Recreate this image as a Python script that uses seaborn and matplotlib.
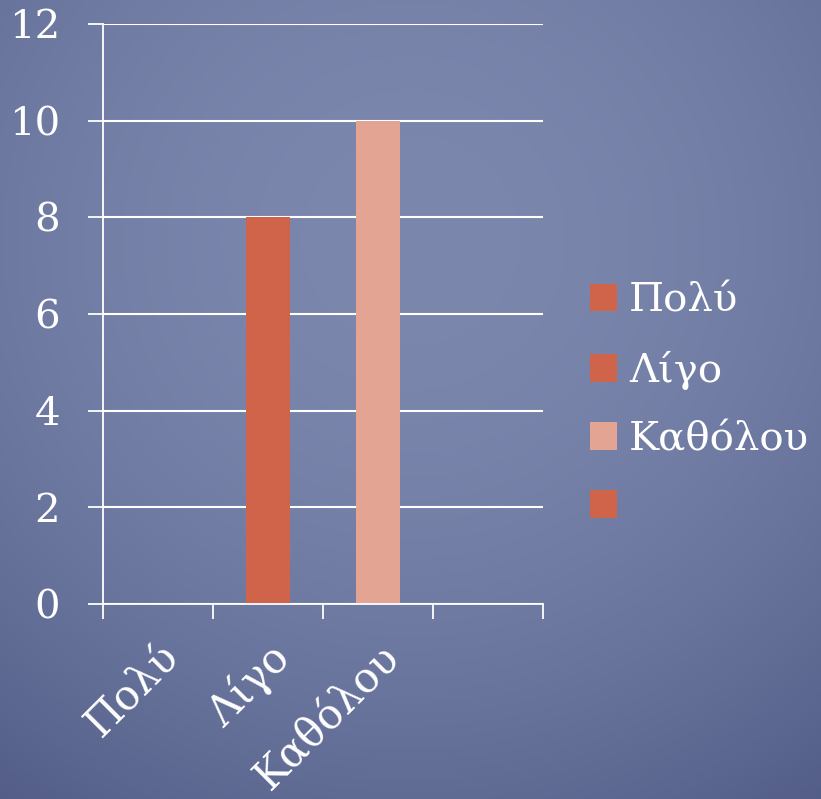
import numpy as np
import pandas as pd
import matplotlib
matplotlib.use('Agg')
import matplotlib.pyplot as plt
from matplotlib.patches import Patch
import seaborn as sns

categories = ['Πολύ', 'Λίγο', 'Καθόλου', '']
values     = [0, 8, 10, 0]
legend_lbl = ['Πολύ', 'Λίγο', 'Καθόλου', '']
yticks     = [0, 2, 4, 6, 8, 10, 12]

DARK, LIGHT = '#d0644a', '#e4a493'
bar_colors = [DARK, DARK, LIGHT, DARK]

sns.set_style('white')
plt.rcParams['font.family'] = ['DejaVu Serif', 'DejaVu Sans']

fig = plt.figure(figsize=(8.21, 7.99), dpi=100)

# background gradient (light in the middle, darker toward bottom-left)
bg = fig.add_axes([0, 0, 1, 1], zorder=-10)
yy, xx = np.mgrid[0:1:400j, 0:1:400j]
d = np.sqrt((xx - 0.5) ** 2 + (yy - 0.3) ** 2)
t = np.clip(d / 0.95, 0, 1) ** 2.0
top = np.array([0x7b, 0x87, 0xad]) / 255
low = np.array([0x4a, 0x54, 0x80]) / 255
img = top[None, None, :] * (1 - t[..., None]) + low[None, None, :] * t[..., None]
bg.imshow(img, extent=[0, 1, 0, 1], aspect='auto', origin='upper')
bg.axis('off')

ax = fig.add_axes([0.1255, 0.2441, 0.5359, 0.7259])
ax.patch.set_alpha(0)
df = pd.DataFrame({'cat': categories, 'val': values})
sns.barplot(data=df, x='cat', y='val', hue='cat', order=categories, hue_order=categories,
            palette=bar_colors, width=0.4, legend=False, ax=ax, saturation=1, linewidth=0)

ax.set_xlim(-0.5, 3.5)
ax.set_ylim(0, 12)
ax.set_yticks(yticks)
ax.yaxis.grid(True, color='white', lw=1.5)
ax.set_axisbelow(True)
for s in ['top', 'right']:
    ax.spines[s].set_visible(False)
for s in ['left', 'bottom']:
    ax.spines[s].set_color('white')
    ax.spines[s].set_linewidth(1.3)
ax.set_xlabel('')
ax.set_ylabel('')

ax.tick_params(axis='y', left=True, length=11, width=1.3, color='white', pad=20,
               labelsize=29, labelcolor='white')
ax.set_xticks(range(len(categories)))
ax.set_xticklabels(categories, rotation=45, ha='right', rotation_mode='anchor')
ax.set_xticks(np.arange(-0.5, 4.0, 1.0), minor=True)
ax.tick_params(axis='x', which='minor', bottom=True, length=11, width=1.3,
               color='white', direction='out')
ax.tick_params(axis='x', which='major', bottom=False, length=0, pad=23,
               labelsize=30, labelcolor='white')

handles = [Patch(facecolor=c, edgecolor='none') for c in bar_colors]
fig.legend(handles, legend_lbl, loc='center left', bbox_to_anchor=(0.674, 0.494),
           frameon=False, fontsize=29, labelcolor='white', handlelength=0.68,
           handleheight=0.68, handletextpad=0.3, labelspacing=0.77)

fig.savefig('out.png', dpi=100)
